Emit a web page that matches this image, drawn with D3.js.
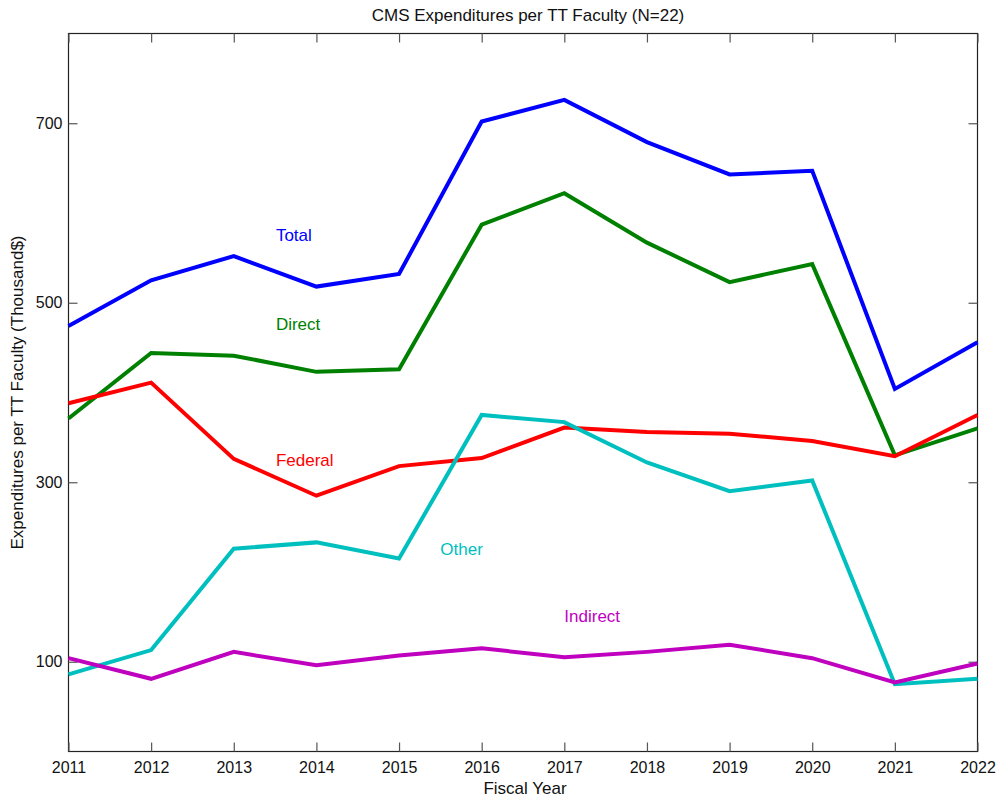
<!DOCTYPE html>
<html>
<head>
<meta charset="utf-8">
<script src="https://cdn.jsdelivr.net/npm/d3@7/dist/d3.min.js"></script>
<style>
  html, body { margin: 0; padding: 0; background: #fff; }
  svg { display: block; font-family: "Liberation Sans", Arial, sans-serif; }
</style>
</head>
<body>
<svg id="chart" width="1000" height="802"></svg>
<script>
// Fiscal years on the x axis
const years = [2011, 2012, 2013, 2014, 2015, 2016, 2017, 2018, 2019, 2020, 2021, 2022];

// Expenditures per tenure-track faculty member, thousands of dollars
const total    = [474, 525, 552, 518, 532, 702, 726, 679, 643, 647, 404, 456];
const direct   = [371, 444, 441, 423, 426, 587, 622, 567, 523, 543, 330, 360];
const federal  = [388, 411, 326, 285, 318, 327, 361, 356, 354, 346, 329, 375];
const other    = [86, 113, 226, 233, 215, 375, 367, 322, 290, 302, 75, 81];
const indirect = [104, 81, 111, 96, 107, 115, 105, 111, 119, 104, 77, 98];

const yTicks = [100, 300, 500, 700];

const seriesNames  = ["Total", "Direct", "Federal", "Other", "Indirect"];
const seriesValues = [total, direct, federal, other, indirect];
const seriesColors = ["#0000ff", "#008000", "#ff0000", "#00bfbf", "#bf00bf"];
// in-plot label anchors, in data units (year, value)
const labelYears  = [2013.51, 2013.51, 2013.51, 2015.5, 2017.0];
const labelValues = [569, 470, 318, 219, 144];

const svg = d3.select("#chart");
const m = { left: 68.5, right: 977.5, top: 33.5, bottom: 751.5 };

const x = d3.scaleLinear().domain([2011, 2022]).range([m.left, m.right]);
const y = d3.scaleLinear().domain([0, 800]).range([m.bottom, m.top]);

const axisColor = "#222";
const tickLen = 9;
const tickFont = "16px";
const textFont = "17px";

// plot frame
svg.append("rect")
  .attr("x", m.left).attr("y", m.top)
  .attr("width", m.right - m.left).attr("height", m.bottom - m.top)
  .attr("fill", "none").attr("stroke", axisColor).attr("stroke-width", 1.2);

// axes with inward ticks on all four sides
const bottomAxis = svg.append("g")
  .attr("transform", `translate(0,${m.bottom})`)
  .call(d3.axisBottom(x).tickValues(years).tickFormat(d3.format("d"))
        .tickSizeInner(-tickLen).tickSizeOuter(0));
const topAxis = svg.append("g")
  .attr("transform", `translate(0,${m.top})`)
  .call(d3.axisTop(x).tickValues(years).tickFormat("")
        .tickSizeInner(-tickLen).tickSizeOuter(0));
const leftAxis = svg.append("g")
  .attr("transform", `translate(${m.left},0)`)
  .call(d3.axisLeft(y).tickValues(yTicks).tickFormat(d3.format("d"))
        .tickSizeInner(-tickLen).tickSizeOuter(0));
const rightAxis = svg.append("g")
  .attr("transform", `translate(${m.right},0)`)
  .call(d3.axisRight(y).tickValues(yTicks).tickFormat("")
        .tickSizeInner(-tickLen).tickSizeOuter(0));

[bottomAxis, topAxis, leftAxis, rightAxis].forEach(g => {
  g.select(".domain").remove();
  g.selectAll(".tick line").attr("stroke", "#555").attr("stroke-width", 1.2);
  g.selectAll(".tick text")
    .attr("font-family", "'Liberation Sans', Arial, sans-serif")
    .attr("font-size", tickFont).attr("fill", "#111");
});
// tick labels sit outside the frame even though ticks point inward
leftAxis.selectAll(".tick text").attr("x", -6);
bottomAxis.selectAll(".tick text").attr("y", 10);

// series lines
const line = d3.line()
  .x((d, i) => x(years[i]))
  .y(d => y(d));

seriesValues.forEach((vals, k) => {
  svg.append("path")
    .datum(vals)
    .attr("d", line)
    .attr("fill", "none")
    .attr("stroke", seriesColors[k])
    .attr("stroke-width", 4)
    .attr("stroke-linejoin", "miter");
});

// series labels inside the plot
seriesNames.forEach((name, k) => {
  svg.append("text")
    .attr("x", x(labelYears[k]))
    .attr("y", y(labelValues[k]))
    .attr("font-size", textFont)
    .attr("fill", seriesColors[k])
    .text(name);
});

// title and axis titles
svg.append("text")
  .attr("x", 528).attr("y", 21)
  .attr("text-anchor", "middle")
  .attr("font-size", textFont).attr("fill", "#111")
  .text("CMS Expenditures per TT Faculty (N=22)");

svg.append("text")
  .attr("x", (m.left + m.right) / 2 + 2).attr("y", 794)
  .attr("text-anchor", "middle")
  .attr("font-size", textFont).attr("fill", "#111")
  .text("Fiscal Year");

svg.append("text")
  .attr("transform", `translate(23,${(m.top + m.bottom) / 2}) rotate(-90)`)
  .attr("text-anchor", "middle")
  .attr("font-size", textFont).attr("fill", "#111")
  .text("Expenditures per TT Faculty (Thousand$)");
</script>
</body>
</html>
